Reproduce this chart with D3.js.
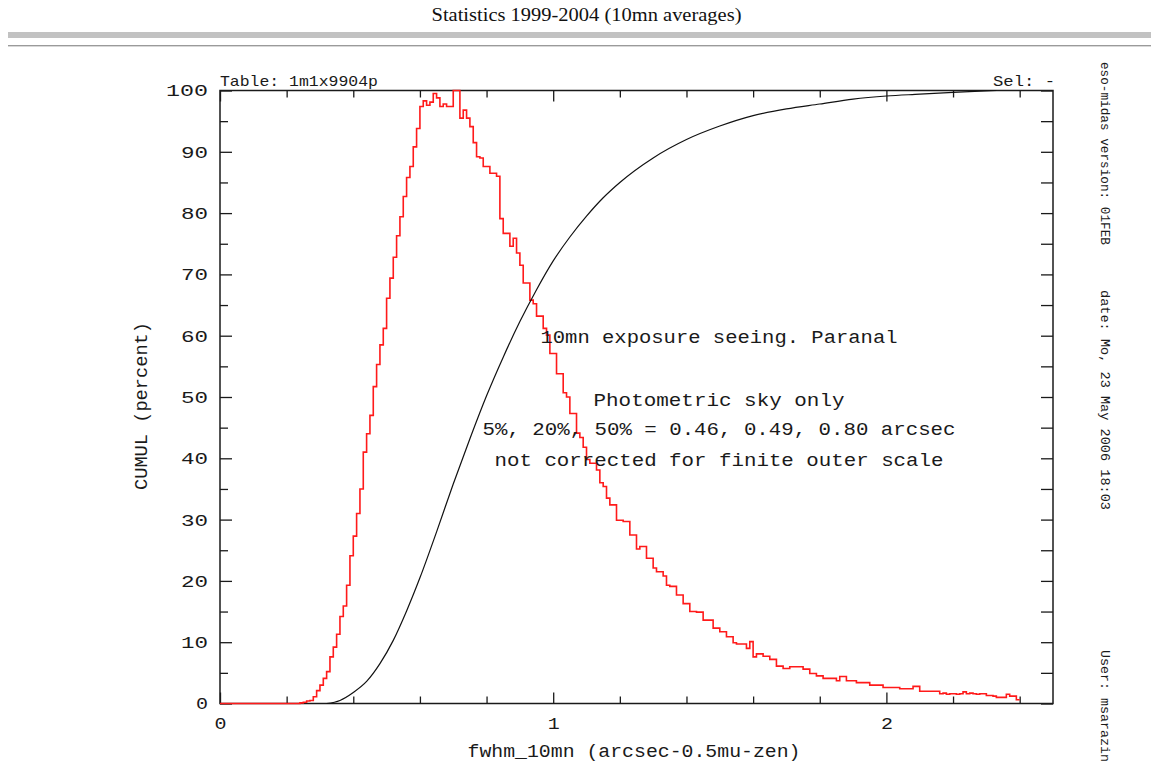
<!DOCTYPE html>
<html><head><meta charset="utf-8">
<script src="https://cdn.jsdelivr.net/npm/d3@7"></script>
<style>html,body{margin:0;padding:0;background:#fff;}svg{display:block;}</style>
</head><body>
<svg id="c" width="1151" height="767"></svg>
<script>
// ---- data ----
const histStart = 0.24;      // left edge of first non-empty bin
const binWidth = 0.01;
const histValues = [
  0.1, 0.2, 0.4, 0.5, 1.1, 2.1,
  3.0, 4.1, 5.2, 7.6, 9.2, 11.3, 14.2, 15.9, 19.3, 24.1,
  27.3, 31, 35, 41, 44, 47, 51.7, 55.3, 58.5, 61.2,
  66.1, 69.4, 72.8, 76.3, 79.4, 82.7, 85.8, 87.6, 90.8, 93.8,
  97.4, 98.3, 97.6, 98.1, 99.5, 98.8, 97.4, 97.8, 97.4, 97.4,
  100, 100, 95.5, 96.8, 95.5, 94.1, 91.5, 89.2, 89.0, 87.6,
  87.6, 86.5, 86.5, 86.0, 79.1, 76.7, 76.7, 74.6, 75.9, 73.5,
  71.5, 68.6, 68.6, 65.8, 65.2, 63.2, 63.2, 61.2, 60.1, 57.1,
  57.1, 53.8, 53.8, 50.7, 50.0, 47.3, 47.3, 44.1, 43.4, 41.8,
  39.8, 39.2, 39.2, 38.1, 36.0, 35.4, 33.5, 32.4, 32.4, 29.9,
  29.9, 29.7, 29.7, 27.5, 27.5, 25.2, 25.6, 25.6, 23.7, 23.7,
  22.1, 21.5, 21.5, 20.8, 19.3, 19.1, 19.1, 17.7, 17.7, 16.3,
  16.3, 15.0, 15.0, 14.9, 14.9, 13.6, 13.6, 13.6, 12.3, 12.3,
  11.7, 11.7, 10.9, 10.9, 9.9, 9.7, 9.7, 9.7, 9.0, 10.1,
  7.6, 8.1, 8.1, 7.7, 7.7, 7.2, 7.2, 6.1, 6.1, 5.7,
  5.7, 6.0, 6.0, 6.0, 6.0, 5.6, 5.6, 4.9, 4.9, 4.5,
  4.5, 4.1, 4.1, 4.1, 4.1, 3.7, 4.4, 4.4, 3.7, 3.7,
  3.7, 3.4, 3.4, 3.4, 3.4, 3.0, 3.0, 3.0, 3.0, 2.6,
  2.6, 2.6, 2.6, 2.6, 2.4, 2.4, 2.4, 2.4, 2.8, 2.8,
  2.0, 2.0, 2.0, 2.0, 2.0, 2.0, 1.6, 1.7, 1.5, 1.6,
  1.6, 1.5, 1.6, 1.9, 1.6, 1.7, 1.6, 1.5, 1.6, 1.6,
  1.3, 1.3, 1.2, 1.0, 1.0, 1.0, 1.5, 1.2, 1.2, 0.6
];
const cumulX = [0.32, 0.36, 0.40, 0.44, 0.48, 0.52, 0.56, 0.60, 0.65, 0.70, 0.75, 0.80, 0.85, 0.90, 0.95, 1.00, 1.05, 1.10, 1.15, 1.20, 1.30, 1.40, 1.50, 1.60, 1.70, 1.80, 1.90, 2.00, 2.10, 2.20, 2.33];
const cumulY = [0, 0.5, 1.8, 3.6, 6.5, 10.3, 15.1, 20.5, 28.0, 35.8, 43.2, 50.2, 56.5, 62.3, 67.5, 72.2, 76.1, 79.5, 82.5, 85.0, 89.0, 92.0, 94.2, 95.9, 97.0, 97.8, 98.6, 99.1, 99.4, 99.7, 100];
const xMajorTicks = [0, 1, 2];
const xMinorTicks = [0.2, 0.4, 0.6, 0.8, 1.2, 1.4, 1.6, 1.8, 2.2, 2.4];
const yMajorTicks = [0, 10, 20, 30, 40, 50, 60, 70, 80, 90, 100];
const yMinorTicks = [5, 15, 25, 35, 45, 55, 65, 75, 85, 95];
const pageTitle = "Statistics 1999-2004 (10mn averages)";
const xLabel = "fwhm_10mn (arcsec-0.5mu-zen)";
const yLabel = "CUMUL (percent)";
const tableLabel = "Table: 1m1x9904p";
const selLabel = "Sel: -";
const notes = ["10mn exposure seeing. Paranal", "Photometric sky only",
  "5%, 20%, 50% = 0.46, 0.49, 0.80 arcsec", "not corrected for finite outer scale"];
const sideTexts = ["eso-midas version: 01FEB", "date: Mo, 23 May 2006 18:03", "User: msarazin"];

// ---- drawing ----
const svg = d3.select("#c");
const mono = "'Liberation Mono','DejaVu Sans Mono',monospace";
const ink = "#1a1a1a";
const x = d3.scaleLinear().domain([0, 2.5]).range([220, 1053]);
const y = d3.scaleLinear().domain([0, 100]).range([703.5, 90.5]);

// header
svg.append("text").attr("x", 586.5).attr("y", 21).attr("text-anchor", "middle")
  .attr("font-family", "'Liberation Serif','Times New Roman',serif").attr("font-size", 18)
  .attr("textLength", 310).attr("lengthAdjust", "spacingAndGlyphs").attr("fill", "#111").text(pageTitle);
svg.append("rect").attr("x", 8).attr("y", 32).attr("width", 1143).attr("height", 6).attr("fill", "#c2c2c2");
svg.append("rect").attr("x", 8).attr("y", 45).attr("width", 1143).attr("height", 1).attr("fill", "#9a9a9a");
svg.append("rect").attr("x", 8).attr("y", 46).attr("width", 1143).attr("height", 1).attr("fill", "#d8d8d8");

const g = svg.append("g");

// ticks via axes
function styleAxis(sel) {
  sel.select(".domain").remove();
  sel.selectAll(".tick line").attr("stroke", ink).attr("stroke-width", 1.3);
  sel.selectAll(".tick text").attr("font-family", mono).attr("fill", ink).attr("font-size", 17)
    .attr("textLength", function () { return this.textContent.length * 15 - 3; })
    .attr("lengthAdjust", "spacingAndGlyphs");
}
g.append("g").attr("transform", `translate(0,${y(0)})`)
  .call(d3.axisBottom(x).tickValues(xMinorTicks).tickSize(-7).tickFormat("")).call(styleAxis);
g.append("g").attr("transform", `translate(0,${y(0)})`)
  .call(d3.axisBottom(x).tickValues(xMajorTicks).tickSize(-11).tickPadding(13).tickFormat(d3.format("d")))
  .call(styleAxis);
g.append("g").attr("transform", `translate(0,${y(100)})`)
  .call(d3.axisTop(x).tickValues(xMinorTicks).tickSize(-7).tickFormat("")).call(styleAxis);
g.append("g").attr("transform", `translate(0,${y(100)})`)
  .call(d3.axisTop(x).tickValues(xMajorTicks).tickSize(-11).tickFormat("")).call(styleAxis);
g.append("g").attr("transform", `translate(${x(0)},0)`)
  .call(d3.axisLeft(y).tickValues(yMinorTicks).tickSize(-8).tickFormat("")).call(styleAxis);
g.append("g").attr("transform", `translate(${x(0)},0)`)
  .call(d3.axisLeft(y).tickValues(yMajorTicks).tickSize(-12).tickPadding(12).tickFormat(d3.format("d")))
  .call(styleAxis);
g.append("g").attr("transform", `translate(${x(2.5)},0)`)
  .call(d3.axisRight(y).tickValues(yMajorTicks.concat(yMinorTicks)).tickSize(-12).tickFormat("")).call(styleAxis);

// frame
g.append("rect").attr("x", x(0)).attr("y", y(100)).attr("width", x(2.5) - x(0)).attr("height", y(0) - y(100))
  .attr("fill", "none").attr("stroke", ink).attr("stroke-width", 1.5);

// histogram (step)
const histPts = [[0, 0]].concat(histValues.map((v, i) => [histStart + i * binWidth, v]));
histPts.push([histStart + histValues.length * binWidth, histValues[histValues.length - 1]]);
g.append("path").datum(histPts)
  .attr("d", d3.line().x(d => x(d[0])).y(d => y(d[1])).curve(d3.curveStepAfter))
  .attr("fill", "none").attr("stroke", "#ff1a1a").attr("stroke-width", 1.6);

// cumulative curve
g.append("path").datum(cumulX.map((v, i) => [v, cumulY[i]]))
  .attr("d", d3.line().x(d => x(d[0])).y(d => y(d[1])).curve(d3.curveMonotoneX))
  .attr("fill", "none").attr("stroke", "#111").attr("stroke-width", 1.2);

// labels
g.append("text").attr("x", 220).attr("y", 86).attr("font-family", mono).attr("font-size", 15)
  .attr("textLength", 158).attr("lengthAdjust", "spacingAndGlyphs").attr("fill", ink).text(tableLabel);
g.append("text").attr("x", 1055).attr("y", 86).attr("text-anchor", "end").attr("font-family", mono).attr("font-size", 15)
  .attr("textLength", 62).attr("lengthAdjust", "spacingAndGlyphs").attr("fill", ink).text(selLabel);
g.append("text").attr("x", 634).attr("y", 757).attr("text-anchor", "middle").attr("font-family", mono).attr("font-size", 18)
  .attr("textLength", 333).attr("lengthAdjust", "spacingAndGlyphs").attr("fill", ink).text(xLabel);
g.append("text").attr("transform", "translate(147,406) rotate(-90)").attr("text-anchor", "middle")
  .attr("font-family", mono).attr("font-size", 18).attr("textLength", 168).attr("lengthAdjust", "spacingAndGlyphs")
  .attr("fill", ink).text(yLabel);

const noteY = [343, 406, 435, 466];
const noteW = [357, 251, 473, 449];
notes.forEach((t, i) => {
  g.append("text").attr("x", 719).attr("y", noteY[i]).attr("text-anchor", "middle").attr("font-family", mono)
    .attr("font-size", 19).attr("textLength", noteW[i]).attr("lengthAdjust", "spacingAndGlyphs").attr("fill", ink).text(t);
});

const sideY = [62, 290, 650];
const sideW = [183, 220, 112];
sideTexts.forEach((t, i) => {
  svg.append("text").attr("transform", `translate(1101,${sideY[i]}) rotate(90)`).attr("font-family", mono)
    .attr("font-size", 13).attr("textLength", sideW[i]).attr("lengthAdjust", "spacingAndGlyphs").attr("fill", ink).text(t);
});
</script>
</body></html>
